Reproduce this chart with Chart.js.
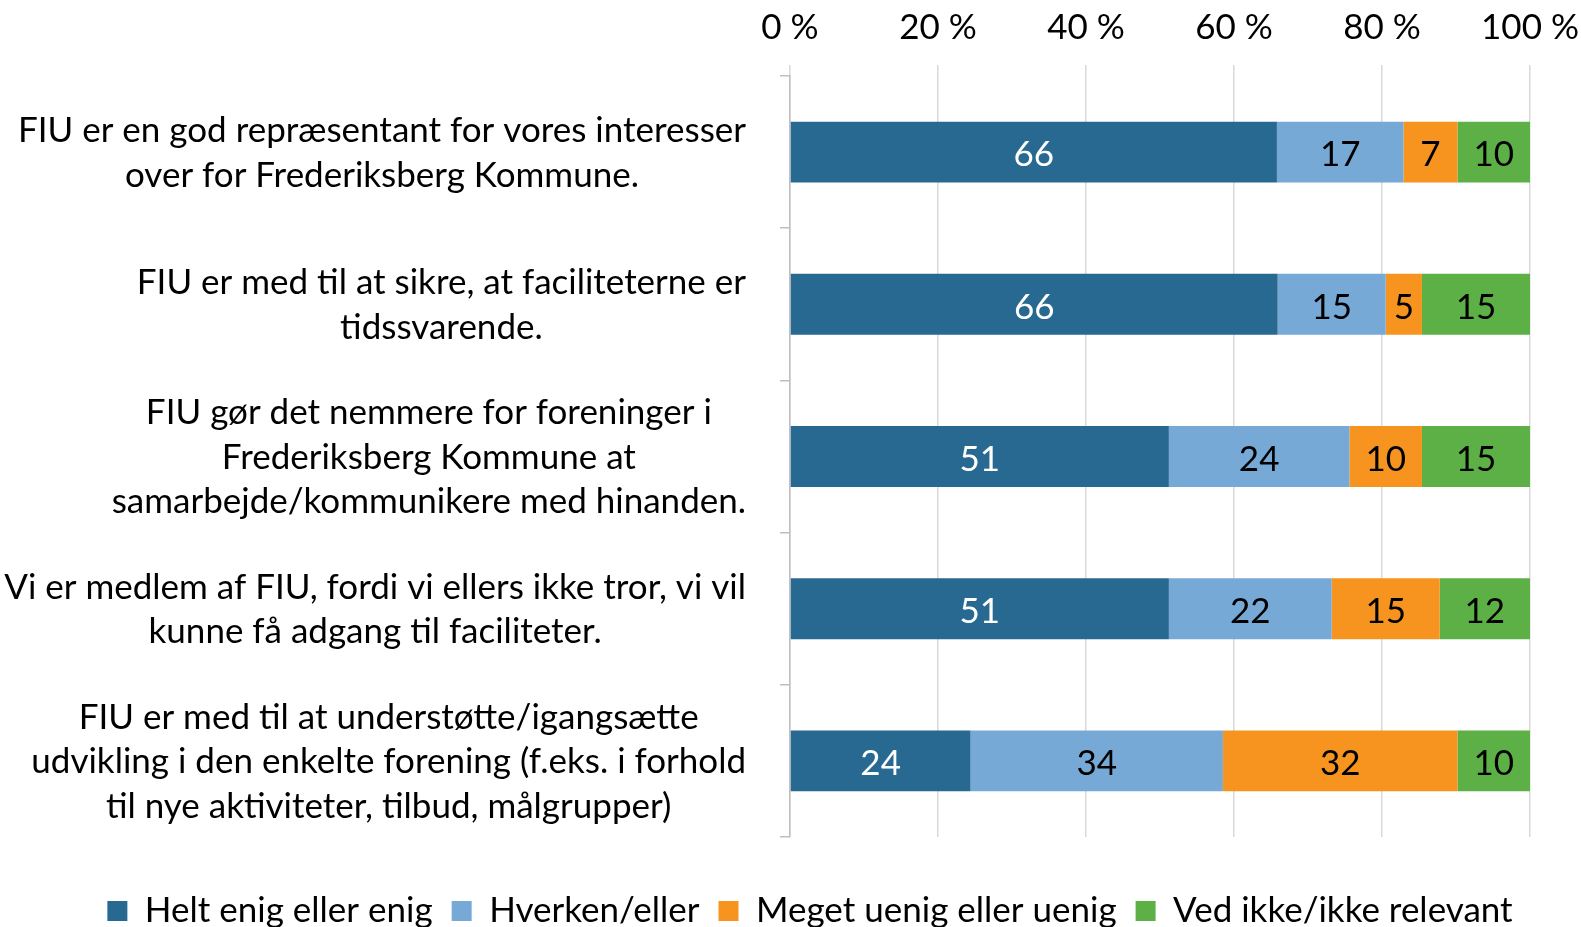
<!DOCTYPE html>
<html><head><meta charset="utf-8">
<script src="https://cdn.jsdelivr.net/npm/chart.js@4.4.1/dist/chart.umd.min.js"></script>
<style>html,body{margin:0;padding:0;background:#fff;}</style>
</head><body>
<canvas id="c" width="1581" height="927"></canvas>
<script>
const categories = [
  ["FIU er en god repræsentant for vores interesser", "over for Frederiksberg Kommune."],
  ["FIU er med til at sikre, at faciliteterne er", "tidssvarende."],
  ["FIU gør det nemmere for foreninger i", "Frederiksberg Kommune at", "samarbejde/kommunikere med hinanden."],
  ["Vi er medlem af FIU, fordi vi ellers ikke tror, vi vil", "kunne få adgang til faciliteter."],
  ["FIU er med til at understøtte/igangsætte", "udvikling i den enkelte forening (f.eks. i forhold", "til nye aktiviteter, tilbud, målgrupper)"]
];
const seriesNames = ["Helt enig eller enig", "Hverken/eller", "Meget uenig eller uenig", "Ved ikke/ikke relevant"];
const heltEnig = [65.8, 65.9, 51.2, 51.2, 24.4];
const hverken  = [17.1, 14.6, 24.4, 22.0, 34.1];
const uenig    = [7.3, 4.9, 9.8, 14.6, 31.7];
const vedIkke  = [9.8, 14.6, 14.6, 12.2, 9.8];
const tickValues = [0, 20, 40, 60, 80, 100];

const FONT = 'Lato';
const FS = 35;
const colors = ['#286991', '#77A9D7', '#F6941F', '#5DB045'];
const labelColors = ['#ffffff', '#000000', '#000000', '#000000'];
const PAD_L = 39;

const catLabelPlugin = {
  id: 'catLabels',
  afterDraw(chart) {
    const ctx = chart.ctx, ys = chart.scales.y, area = chart.chartArea;
    ctx.save();
    ctx.font = FS + 'px ' + FONT;
    ctx.fillStyle = '#000';
    ctx.textAlign = 'center';
    ctx.textBaseline = 'middle';
    const right = area.left - 44;
    const lh = 44.5;
    categories.forEach((lines, i) => {
      const cy = ys.getPixelForValue(i);
      const w = Math.max(...lines.map(l => ctx.measureText(l).width));
      const cx = right - w / 2;
      lines.forEach((l, j) => ctx.fillText(l, cx, cy + 1 + (j - (lines.length - 1) / 2) * lh));
    });
    ctx.restore();
  }
};

const valueLabelPlugin = {
  id: 'valueLabels',
  afterDatasetsDraw(chart) {
    const ctx = chart.ctx;
    ctx.save();
    ctx.font = FS + 'px ' + FONT;
    ctx.textAlign = 'center';
    ctx.textBaseline = 'middle';
    chart.data.datasets.forEach((ds, i) => {
      const meta = chart.getDatasetMeta(i);
      ctx.fillStyle = labelColors[i];
      meta.data.forEach((bar, j) => {
        const v = ds.data[j];
        if (!v) return;
        ctx.fillText(String(Math.round(v)), (bar.x + bar.base) / 2, bar.y + 3);
      });
    });
    ctx.restore();
  }
};

const seriesData = [heltEnig, hverken, uenig, vedIkke];

new Chart(document.getElementById('c'), {
  type: 'bar',
  data: {
    labels: categories,
    datasets: seriesNames.map((n, i) => ({
      label: n,
      data: seriesData[i],
      backgroundColor: colors[i],
      borderWidth: 0,
      barPercentage: 0.4,
      categoryPercentage: 1.0
    }))
  },
  options: {
    indexAxis: 'y',
    responsive: false,
    animation: false,
    layout: { padding: { left: PAD_L, right: 0, top: 0, bottom: 0 } },
    scales: {
      x: {
        type: 'linear',
        position: 'top',
        stacked: true,
        min: 0, max: 100,
        afterBuildTicks: (scale) => { scale.ticks = tickValues.map(v => ({ value: v })); },
        afterFit: (scale) => { scale.height = 76; scale.paddingRight = 51; scale.paddingLeft = 0; },
        ticks: {
          font: { family: FONT, size: FS },
          color: '#000',
          padding: 16,
          maxRotation: 0,
          callback: (v) => v + ' %'
        },
        grid: { color: '#d9d9d9', lineWidth: 1.5, tickLength: 11, drawTicks: true },
        border: { display: false }
      },
      y: {
        stacked: true,
        afterFit: (scale) => { scale.width = 790 - PAD_L; },
        ticks: { display: false },
        grid: { offset: true, drawOnChartArea: false, drawTicks: true, tickLength: 10, color: '#bfbfbf', lineWidth: 1.5 },
        border: { display: true, color: '#bfbfbf', width: 1.5 }
      }
    },
    plugins: {
      legend: {
        position: 'bottom',
        maxHeight: 90,
        title: { display: true, text: '', font: { size: 1, lineHeight: 1 }, padding: { top: 36.5, bottom: 0 } },
        labels: {
          boxWidth: 20, boxHeight: 20, padding: 19,
          color: '#000',
          font: { family: FONT, size: FS }
        }
      },
      tooltip: { enabled: false }
    }
  },
  plugins: [catLabelPlugin, valueLabelPlugin]
});
</script>
</body></html>
